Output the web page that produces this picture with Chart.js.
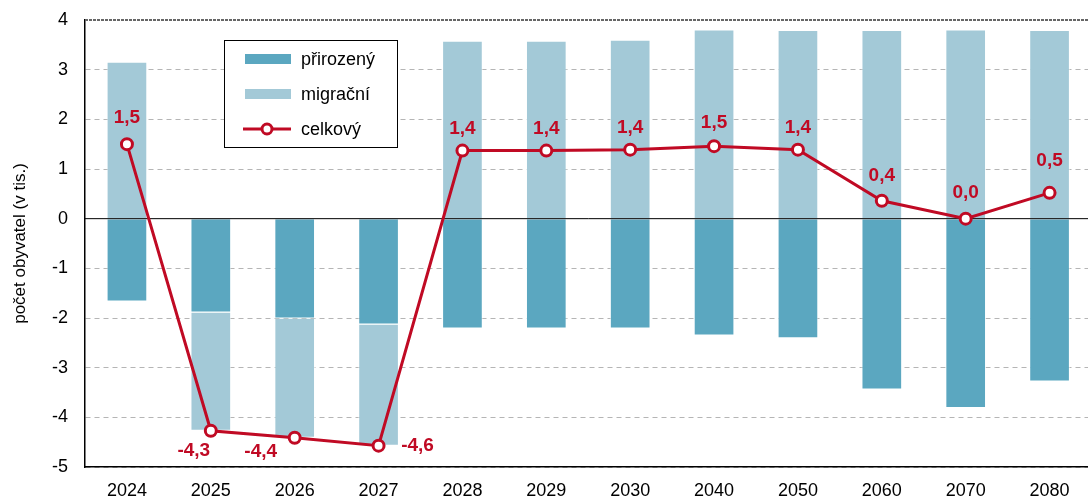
<!DOCTYPE html>
<html>
<head>
<meta charset="utf-8">
<script src="https://cdn.jsdelivr.net/npm/chart.js@4.4.1/dist/chart.umd.min.js"></script>
<style>
    html, body { margin: 0; padding: 0; background: #fff; overflow: hidden; }
    #wrap { width: 1100px; height: 499px; }
</style>
</head>
<body>
<div id="wrap"><canvas id="popChart" width="1100" height="499"></canvas></div>
<script>
// Population change components (thousands)
const years = ['2024', '2025', '2026', '2027', '2028', '2029', '2030', '2040', '2050', '2060', '2070', '2080'];
const natural = [-1.67, -1.89, -2.01, -2.13, -2.21, -2.21, -2.21, -2.35, -2.41, -3.44, -3.81, -3.28];
const migration = [3.16, -2.38, -2.40, -2.44, 3.58, 3.58, 3.60, 3.81, 3.80, 3.80, 3.81, 3.80];
const total = [1.5, -4.27, -4.41, -4.57, 1.37, 1.37, 1.39, 1.46, 1.39, 0.36, 0.0, 0.52];
const yMin = -5;
const yMax = 4;

const seriesNames = ['přirozený', 'migrační', 'celkový'];
const yTitle = 'počet obyvatel (v tis.)';

const COLOR_NAT = '#5ba7c0';
const COLOR_MIG = '#a3c9d7';
const COLOR_RED = '#c00a24';
const FONT = 'Arial, "Liberation Sans", sans-serif';

// label offsets from point (px), style only
const labelOffsets = [
    [0, -26], [-17, 20], [-34, 14], [39, 0], [0, -22], [0, -22],
    [0, -22], [0, -23], [0, -22], [0, -25], [0, -26], [0, -32]
];

// zero line over the bars + dark top border of the plot area
const frameLinesPlugin = {
    id: 'frameLines',
    beforeDatasetsDraw(chart) {
        const { ctx, chartArea } = chart;
        ctx.save();
        ctx.strokeStyle = '#666';
        ctx.lineWidth = 2;
        ctx.setLineDash([3, 1]);
        ctx.beginPath();
        ctx.moveTo(chartArea.left, chartArea.top);
        ctx.lineTo(chartArea.right, chartArea.top);
        ctx.stroke();
        ctx.restore();
    },
    beforeDatasetDraw(chart, args) {
        if (args.meta.type !== 'line') return;
        const { ctx, chartArea } = chart;
        const y = chart.scales.y.getPixelForValue(0);
        ctx.save();
        ctx.strokeStyle = '#000';
        ctx.lineWidth = 1;
        ctx.beginPath();
        ctx.moveTo(chartArea.left, y);
        ctx.lineTo(chartArea.right, y);
        ctx.stroke();
        ctx.restore();
    }
};

const valueLabelPlugin = {
    id: 'valueLabels',
    afterDatasetsDraw(chart) {
        const { ctx } = chart;
        const meta = chart.getDatasetMeta(2);
        ctx.save();
        ctx.fillStyle = COLOR_RED;
        ctx.font = 'bold 19px ' + FONT;
        ctx.textAlign = 'center';
        ctx.textBaseline = 'middle';
        meta.data.forEach((pt, i) => {
            const off = labelOffsets[i] || [0, -24];
            const txt = total[i].toFixed(1).replace('.', ',');
            ctx.fillText(txt, pt.x + off[0], pt.y + off[1]);
        });
        ctx.restore();
    }
};

const boxLegendPlugin = {
    id: 'boxLegend',
    afterDraw(chart) {
        const { ctx } = chart;
        const x = 224, y = 40, w = 173, h = 107;
        ctx.save();
        ctx.fillStyle = '#fff';
        ctx.fillRect(x, y, w, h);
        ctx.strokeStyle = '#000';
        ctx.lineWidth = 1;
        ctx.strokeRect(x + 0.5, y + 0.5, w, h);

        ctx.font = '18px ' + FONT;
        ctx.textBaseline = 'middle';
        ctx.textAlign = 'left';

        const rows = [59, 94, 129];
        ctx.fillStyle = COLOR_NAT;
        ctx.fillRect(245, rows[0] - 5, 46, 10);
        ctx.fillStyle = COLOR_MIG;
        ctx.fillRect(245, rows[1] - 5, 46, 10);

        ctx.strokeStyle = COLOR_RED;
        ctx.lineWidth = 3;
        ctx.beginPath();
        ctx.moveTo(243, rows[2]);
        ctx.lineTo(291, rows[2]);
        ctx.stroke();
        ctx.beginPath();
        ctx.arc(267, rows[2], 5, 0, Math.PI * 2);
        ctx.fillStyle = '#fff';
        ctx.fill();
        ctx.stroke();

        ctx.fillStyle = '#000';
        seriesNames.forEach((name, i) => ctx.fillText(name, 301, rows[i] + 1));
        ctx.restore();
    }
};

const ctx = document.getElementById('popChart').getContext('2d');
const popChart = new Chart(ctx, {
    type: 'bar',
    data: {
        labels: years,
        datasets: [
            {
                label: seriesNames[0],
                data: natural,
                backgroundColor: COLOR_NAT,
                borderColor: 'rgba(255,255,255,0.6)',
                borderWidth: 1,
                stack: 'bars',
                categoryPercentage: 1,
                barPercentage: 0.485
            },
            {
                label: seriesNames[1],
                data: migration,
                backgroundColor: COLOR_MIG,
                borderColor: 'rgba(255,255,255,0.6)',
                borderWidth: 1,
                stack: 'bars',
                categoryPercentage: 1,
                barPercentage: 0.485
            },
            {
                type: 'line',
                label: seriesNames[2],
                data: total,
                stack: 'line',
                order: -1,
                borderColor: COLOR_RED,
                borderWidth: 3,
                tension: 0,
                pointRadius: 5.5,
                pointBorderWidth: 3,
                pointBackgroundColor: '#fff',
                pointBorderColor: COLOR_RED,
                fill: false
            }
        ]
    },
    options: {
        responsive: false,
        animation: false,
        layout: { padding: { left: 0, top: 20, right: 0, bottom: 0 } },
        plugins: {
            legend: { display: false },
            tooltip: { enabled: false }
        },
        scales: {
            x: {
                stacked: true,
                grid: { display: false, drawTicks: false },
                border: { display: true, color: '#000', width: 1.5 },
                ticks: { color: '#000', font: { family: FONT, size: 18 }, padding: 13, maxRotation: 0 },
                afterFit(scale) {
                    scale.height = 32;
                    scale.paddingLeft = 0;
                    scale.paddingRight = 0;
                }
            },
            y: {
                stacked: true,
                min: yMin,
                max: yMax,
                ticks: { stepSize: 1, color: '#000', font: { family: FONT, size: 18 }, padding: 17 },
                grid: {
                    color: c => (c.tick && (c.tick.value === 0 || c.tick.value === yMax)) ? 'rgba(0,0,0,0)' : '#b5b5b5',
                    lineWidth: 1,
                    drawTicks: false
                },
                border: { display: true, color: '#000', width: 1.5, dash: [5, 4] },
                title: {
                    display: true,
                    text: yTitle,
                    color: '#000',
                    font: { family: FONT, size: 17 },
                    padding: { top: 10, bottom: 0 }
                },
                afterFit(scale) {
                    scale.width = 85;
                    scale.paddingTop = 0;
                    scale.paddingBottom = 0;
                }
            }
        }
    },
    plugins: [frameLinesPlugin, valueLabelPlugin, boxLegendPlugin]
});
</script>
</body>
</html>
